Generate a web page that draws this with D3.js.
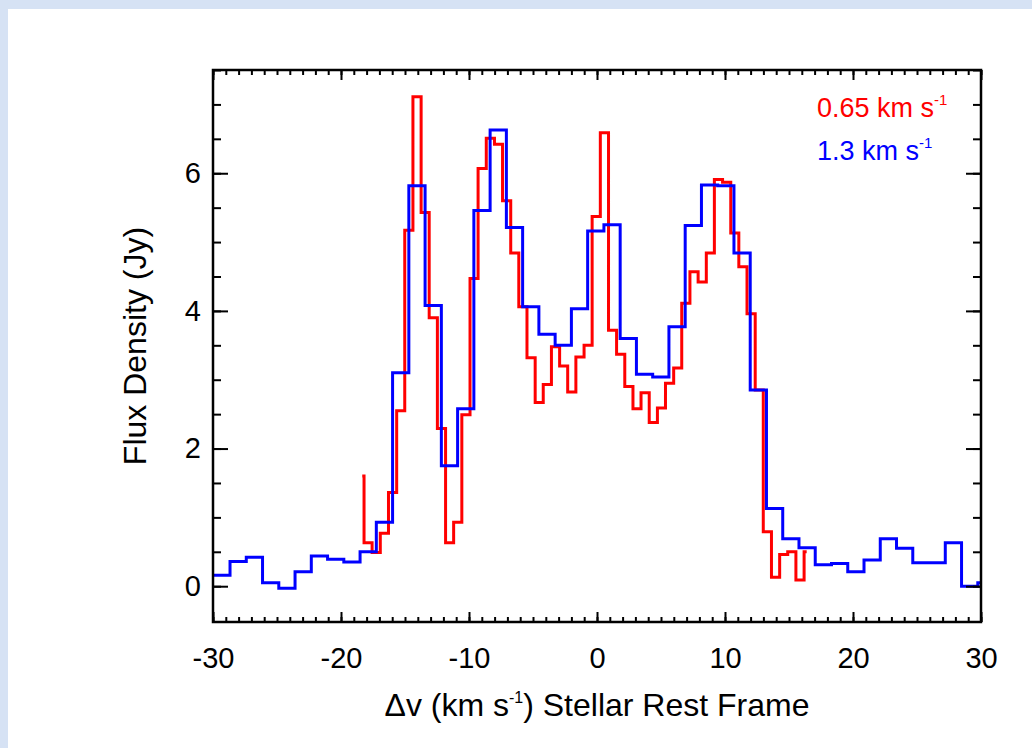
<!DOCTYPE html>
<html>
<head>
<meta charset="utf-8">
<script src="https://cdnjs.cloudflare.com/ajax/libs/d3/7.8.5/d3.min.js"></script>
<style>
body { margin: 0; background: #d6e2f4; }
svg { display: block; }
</style>
</head>
<body>
<svg width="1032" height="748"></svg>
<script>
// Spectrum data: bin edges (km/s) and flux (Jy)
// red = 0.65 km/s resolution, blue = 1.3 km/s resolution
var redEdges = [-18.34, -18.20, -17.57, -16.93, -16.29, -15.65, -15.02, -14.38, -13.74, -13.11,
	-12.47, -11.83, -11.20, -10.56, -9.92, -9.29, -8.65, -8.01, -7.38, -6.74,
	-6.11, -5.47, -4.83, -4.20, -3.56, -2.92, -2.29, -1.65, -1.01, -0.38,
	0.26, 0.90, 1.53, 2.17, 2.81, 3.44, 4.08, 4.72, 5.35, 5.99,
	6.62, 7.26, 7.90, 8.54, 9.17, 9.81, 10.45, 11.08, 11.72, 12.36,
	12.99, 13.63, 14.27, 14.90, 15.54, 16.18, 16.38]
var redFlux = [1.60, 0.63, 0.49, 0.77, 1.36, 2.55, 5.17, 7.11, 5.43, 3.90,
	2.29, 0.63, 0.93, 2.49, 4.47, 6.07, 6.51, 6.42, 5.60, 4.84,
	4.06, 3.32, 2.67, 2.93, 3.48, 3.20, 2.82, 3.33, 3.50, 5.37,
	6.59, 3.72, 3.37, 2.90, 2.58, 2.81, 2.38, 2.59, 2.95, 3.17,
	4.11, 4.57, 4.42, 4.84, 5.91, 5.87, 5.13, 4.64, 3.96, 2.85,
	0.79, 0.13, 0.46, 0.50, 0.09, 0.50]

var blueEdges = [-30.00, -28.67, -27.40, -26.13, -24.86, -23.59, -22.32, -21.05, -19.78, -18.51,
	-17.24, -15.97, -14.70, -13.43, -12.16, -10.89, -9.62, -8.35, -7.08, -5.81,
	-4.54, -3.27, -2.00, -0.73, 0.54, 1.81, 3.08, 4.35, 5.62, 6.89,
	8.16, 9.43, 10.70, 11.97, 13.24, 14.51, 15.78, 17.05, 18.32, 19.59,
	20.86, 22.13, 23.40, 24.67, 25.94, 27.21, 28.48, 29.75, 30.00]
var blueFlux = [0.16, 0.36, 0.42, 0.05, -0.03, 0.21, 0.44, 0.39, 0.35, 0.50,
	0.93, 3.10, 5.82, 4.08, 1.75, 2.58, 5.46, 6.63, 5.21, 4.06,
	3.66, 3.50, 4.03, 5.16, 5.25, 3.60, 3.08, 3.04, 3.77, 5.24,
	5.83, 5.82, 4.84, 2.85, 1.13, 0.69, 0.56, 0.31, 0.33, 0.21,
	0.38, 0.69, 0.55, 0.34, 0.34, 0.63, 0.00, 0.05]

var xMajor = [-30, -20, -10, 0, 10, 20, 30]
var yMajor = [0, 2, 4, 6]
var legendLabels = ["0.65 km s", "1.3 km s"]
var legendColors = ["#ff0000", "#0000ff"]

var font = "'Liberation Sans', Arial, Helvetica, sans-serif"

var svg = d3.select("svg")
var margin = {top: 70, right: 51, bottom: 126, left: 213}
var width = +svg.attr("width") - margin.left - margin.right
var height = +svg.attr("height") - margin.top - margin.bottom

// white page with the light blue border at top / left
svg.append("rect")
	.attr("x", 8).attr("y", 9)
	.attr("width", 1032).attr("height", 748)
	.attr("fill", "#fff")

var g = svg.append("g").attr("transform", "translate(" + margin.left + "," + margin.top + ")")

var x = d3.scaleLinear().domain([-30, 30]).range([0, width])
var y = d3.scaleLinear().domain([-0.52, 7.5]).range([height, 0])

g.append("clipPath").attr("id", "clip")
	.append("rect").attr("width", width).attr("height", height)

// turn edges + values into step points
function steps(edges, flux) {
	var pts = flux.map(function(f, i) { return [edges[i], f] })
	pts.push([edges[edges.length - 1], flux[flux.length - 1]])
	return pts
}

var line = d3.line()
	.curve(d3.curveStepAfter)
	.x(function(d) { return x(d[0]) })
	.y(function(d) { return y(d[1]) })

var series = [
	{color: "#ff0000", pts: steps(redEdges, redFlux)},
	{color: "#0000ff", pts: steps(blueEdges, blueFlux)}
]

g.append("g").attr("clip-path", "url(#clip)")
	.selectAll("path")
	.data(series)
	.enter().append("path")
	.attr("d", function(d) { return line(d.pts) })
	.attr("fill", "none")
	.attr("stroke", function(d) { return d.color })
	.attr("stroke-width", 3)
	.attr("stroke-linejoin", "miter")

// Axes, ticks all point inward
var xMinor = d3.range(-30, 31, 1)
var yMinor = d3.range(0, 7.6, 0.5)

function styleAxis(sel) {
	sel.selectAll("line").attr("stroke", "#000").attr("stroke-width", 2)
	sel.select(".domain").remove()
	sel.selectAll("text").attr("fill", "#000").style("font", "29px " + font)
}

g.append("g").attr("transform", "translate(0," + height + ")")
	.call(d3.axisBottom(x).tickValues(xMinor).tickSize(-5).tickFormat(""))
	.call(styleAxis)
g.append("g").attr("transform", "translate(0," + height + ")")
	.call(d3.axisBottom(x).tickValues(xMajor).tickSize(-10).tickPadding(25).tickFormat(function(d) { return String(d) }))
	.call(styleAxis)
g.append("g")
	.call(d3.axisTop(x).tickValues(xMinor).tickSize(-5).tickFormat(""))
	.call(styleAxis)
g.append("g")
	.call(d3.axisTop(x).tickValues(xMajor).tickSize(-10).tickFormat(""))
	.call(styleAxis)

g.append("g")
	.call(d3.axisLeft(y).tickValues(yMinor).tickSize(-8).tickFormat(""))
	.call(styleAxis)
g.append("g")
	.call(d3.axisLeft(y).tickValues(yMajor).tickSize(-15).tickPadding(12).tickFormat(function(d) { return String(d) }))
	.call(styleAxis)
g.append("g").attr("transform", "translate(" + width + ",0)")
	.call(d3.axisRight(y).tickValues(yMinor).tickSize(-8).tickFormat(""))
	.call(styleAxis)
g.append("g").attr("transform", "translate(" + width + ",0)")
	.call(d3.axisRight(y).tickValues(yMajor).tickSize(-15).tickFormat(""))
	.call(styleAxis)

// plot frame
g.append("rect")
	.attr("width", width).attr("height", height)
	.attr("fill", "none")
	.attr("stroke", "#000")
	.attr("stroke-width", 2.5)

// axis titles
var xTitle = g.append("text")
	.attr("x", x(0)).attr("y", height + 94)
	.attr("text-anchor", "middle")
	.style("font", "32px " + font)
xTitle.append("tspan").text("\u0394v (km s")
xTitle.append("tspan").attr("dy", -13).style("font-size", "16px").text("-1")
xTitle.append("tspan").attr("dy", 13).text(") Stellar Rest Frame")

g.append("text")
	.attr("transform", "translate(-67," + (height / 2) + ") rotate(-90)")
	.attr("text-anchor", "middle")
	.style("font", "32px " + font)
	.text("Flux Density (Jy)")

// legend
var legend = g.selectAll(".legend")
	.data(legendLabels)
	.enter().append("text")
	.attr("class", "legend")
	.attr("x", 604)
	.attr("y", function(d, i) { return 47 + i * 43 })
	.attr("fill", function(d, i) { return legendColors[i] })
	.style("font", "27px " + font)
legend.append("tspan").text(function(d) { return d })
legend.append("tspan").attr("dy", -12).style("font-size", "15px").text("-1")
</script>
</body>
</html>
